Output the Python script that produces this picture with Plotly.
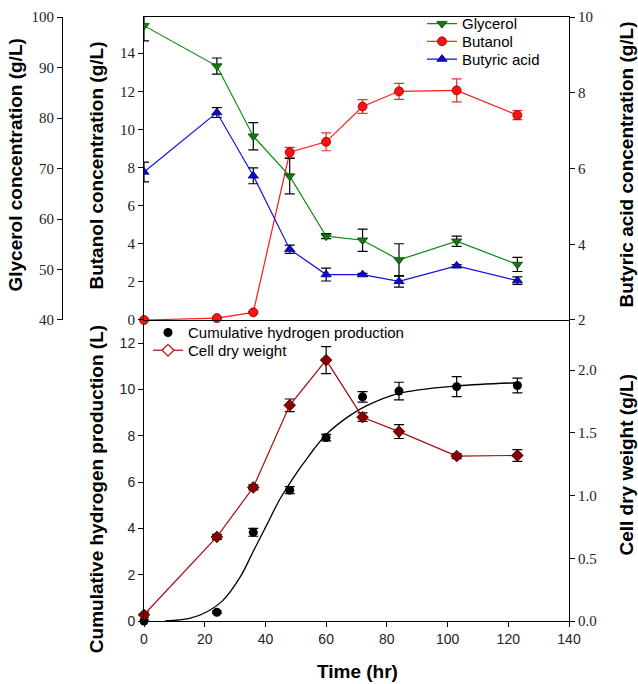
import plotly.graph_objects as go

# sampling times (hr)
time_hr = [0, 24, 36, 48, 60, 72, 84, 103, 123]

# top panel
glycerol = [98.3, 90.3, 76.4, 68.5, 56.6, 55.8, 51.9, 55.6, 51.0]
glycerol_err = [3.0, 1.6, 2.7, 3.5, 0.5, 2.2, 3.2, 1.0, 1.4]
butanol = [0.0, 0.1, 0.4, 8.8, 9.35, 11.2, 12.0, 12.05, 10.75]
butanol_err = [0.05, 0.05, 0.05, 0.26, 0.47, 0.36, 0.42, 0.6, 0.24]
butyric = [5.91, 7.48, 5.81, 3.87, 3.2, 3.2, 3.02, 3.43, 3.04]
butyric_err = [0.26, 0.13, 0.21, 0.11, 0.17, 0.03, 0.15, 0.03, 0.1]

# bottom panel
hydrogen = [0.0, 0.38, 3.83, 5.65, 7.92, 9.68, 9.93, 10.12, 10.17]
hydrogen_err = [0.05, 0.05, 0.17, 0.15, 0.14, 0.23, 0.38, 0.43, 0.32]
cdw = [0.05, 0.67, 1.065, 1.72, 2.08, 1.625, 1.51, 1.315, 1.32]
cdw_err = [0.02, 0.02, 0.02, 0.05, 0.107, 0.034, 0.055, 0.02, 0.047]

# fitted curve
fit_t = [7, 15, 20.6, 26, 31.6, 36, 40.4, 44.8, 50.3, 53.6, 56.9, 60.2, 67.9, 73.4, 84, 103, 123]
fit_h = [0, 0.11, 0.39, 0.89, 1.88, 3.01, 4.14, 5.27, 6.40, 7.0, 7.58, 8.08, 8.88, 9.30, 9.83, 10.15, 10.29]

serif = dict(family="Liberation Serif", size=15, color="#222")
sans = dict(family="Liberation Sans", size=14, color="#222")
W, H = 638, 684
ml, mr, mt, mb = 62, 69, 7, 63
pw, ph = W - ml - mr, H - mt - mb
x0 = (144 - ml) / pw
split = (621 - 315) / ph

def px(x):
    return (x - ml) / pw

def py(y):
    return (H - mb - y) / ph

def leg(x, y):
    # one legend box per entry so the row spacing follows the original
    return dict(x=px(x), y=py(y), xanchor="left", yanchor="middle", bgcolor="rgba(0,0,0,0)",
                font=dict(family="Liberation Sans", size=15, color="black"), itemwidth=30)

fig = go.Figure()

fig.add_trace(go.Scatter(x=time_hr, y=glycerol, name="Glycerol", xaxis="x2", yaxis="y2", mode="lines+markers",
    line=dict(color="#0c8a0c", width=1.2),
    marker=dict(symbol="triangle-down", size=9, color="#0f7d0f", line=dict(color="#0a3d0a", width=0.8)),
    error_y=dict(type="data", array=glycerol_err, color="black", thickness=1.2, width=5), legend="legend"))
fig.add_trace(go.Scatter(x=time_hr, y=butanol, name="Butanol", xaxis="x2", yaxis="y", mode="lines+markers",
    line=dict(color="#ff1a1a", width=1.2), cliponaxis=False,
    marker=dict(symbol="circle", size=9, color="#ff1010", line=dict(color="#8a0000", width=0.8)),
    error_y=dict(type="data", array=butanol_err, color="#e83030", thickness=1.2, width=5), legend="legend3"))
fig.add_trace(go.Scatter(x=time_hr, y=butyric, name="Butyric acid", xaxis="x2", yaxis="y3", mode="lines+markers",
    line=dict(color="#1010e0", width=1.2),
    marker=dict(symbol="triangle-up", size=9, color="#0a0ad0", line=dict(color="#00006a", width=0.8)),
    error_y=dict(type="data", array=butyric_err, color="black", thickness=1.2, width=5), legend="legend4"))

fig.add_trace(go.Scatter(x=fit_t, y=fit_h, mode="lines", line=dict(color="black", width=1.3, shape="spline"),
    xaxis="x", yaxis="y4", showlegend=False))
fig.add_trace(go.Scatter(x=time_hr, y=hydrogen, name="Cumulative hydrogen production", xaxis="x", yaxis="y4",
    mode="markers", cliponaxis=False, marker=dict(symbol="circle", size=9, color="black"),
    error_y=dict(type="data", array=hydrogen_err, color="black", thickness=1.2, width=5), legend="legend2"))
fig.add_trace(go.Scatter(x=time_hr, y=cdw, name="Cell dry weight", xaxis="x", yaxis="y5", mode="lines+markers",
    line=dict(color="#a01010", width=1.2), cliponaxis=False,
    marker=dict(symbol="diamond", size=9, color="#8b0000", line=dict(color="#3a0000", width=0.8)),
    error_y=dict(type="data", array=cdw_err, color="black", thickness=1.2, width=5), showlegend=False))
# legend entry for cell dry weight (hollow diamond, as in the original)
fig.add_trace(go.Scatter(x=[None], y=[None], name="Cell dry weight", xaxis="x", yaxis="y5", mode="lines+markers",
    line=dict(color="#a01010", width=1.2),
    marker=dict(symbol="diamond", size=9, color="white", line=dict(color="#c01010", width=1.2)), legend="legend5"))

tick_common = dict(ticks="outside", ticklen=5, tickcolor="black", showline=True, linecolor="black",
                   linewidth=1, showgrid=False, zeroline=False)

fig.update_layout(
    width=W, height=H, margin=dict(l=ml, r=mr, t=mt, b=mb),
    paper_bgcolor="white", plot_bgcolor="white",
    xaxis=dict(domain=[x0, 1], range=[0, 140], anchor="y4", tickvals=list(range(0, 141, 20)), tickfont=sans, **tick_common),
    xaxis2=dict(domain=[x0, 1], range=[0, 140], anchor="y", matches="x", showticklabels=False, showline=True,
                linecolor="black", mirror=True, ticks="", showgrid=False, zeroline=False),
    yaxis=dict(domain=[split, 1], range=[0, 15.9], anchor="x2", tickvals=list(range(0, 15, 2)), tickfont=serif, **tick_common),
    yaxis2=dict(overlaying="y", anchor="free", position=0, side="left", range=[40, 100.02],
                tickvals=list(range(40, 101, 10)), tickfont=serif, **tick_common),
    yaxis3=dict(overlaying="y", anchor="x2", side="right", range=[2, 10.005], tickvals=[2, 4, 6, 8, 10], tickfont=serif, **tick_common),
    yaxis4=dict(domain=[0, split], range=[0, 13], anchor="x", tickvals=list(range(0, 13, 2)), tickfont=sans, **tick_common),
    yaxis5=dict(overlaying="y4", anchor="x", side="right", range=[0, 2.4], tickvals=[0, 0.5, 1.0, 1.5, 2.0],
                tickformat=".1f", tickfont=serif, **tick_common),
    legend=leg(422, 14),
    legend3=leg(422, 32),
    legend4=leg(422, 50),
    legend2=leg(148, 328),
    legend5=leg(148, 346),
)

title_font = dict(family="Liberation Sans", size=19, color="black")
titles = [
    ("Glycerol concentration (g/L)", 16, 158, -90),
    ("Butanol concentration (g/L)", 97, 158, -90),
    ("Butyric acid concentration (g/L)", 627, 157, -90),
    ("Cumulative hydrogen production (L)", 96, 487, -90),
    ("Cell dry weight (g/L)", 627, 462, -90),
    ("Time (hr)", 357, 672, 0),
]
for text, tx, ty, ang in titles:
    fig.add_annotation(text="<b>" + text + "</b>", x=px(tx), y=py(ty), xref="paper", yref="paper",
                       showarrow=False, textangle=ang, font=title_font, xanchor="center", yanchor="middle")

# the page body has an 8px margin by default; drop it so the figure sits at the top-left corner
fig.write_html("out.html", config={"displayModeBar": False}, post_script="document.body.style.margin='0';")
